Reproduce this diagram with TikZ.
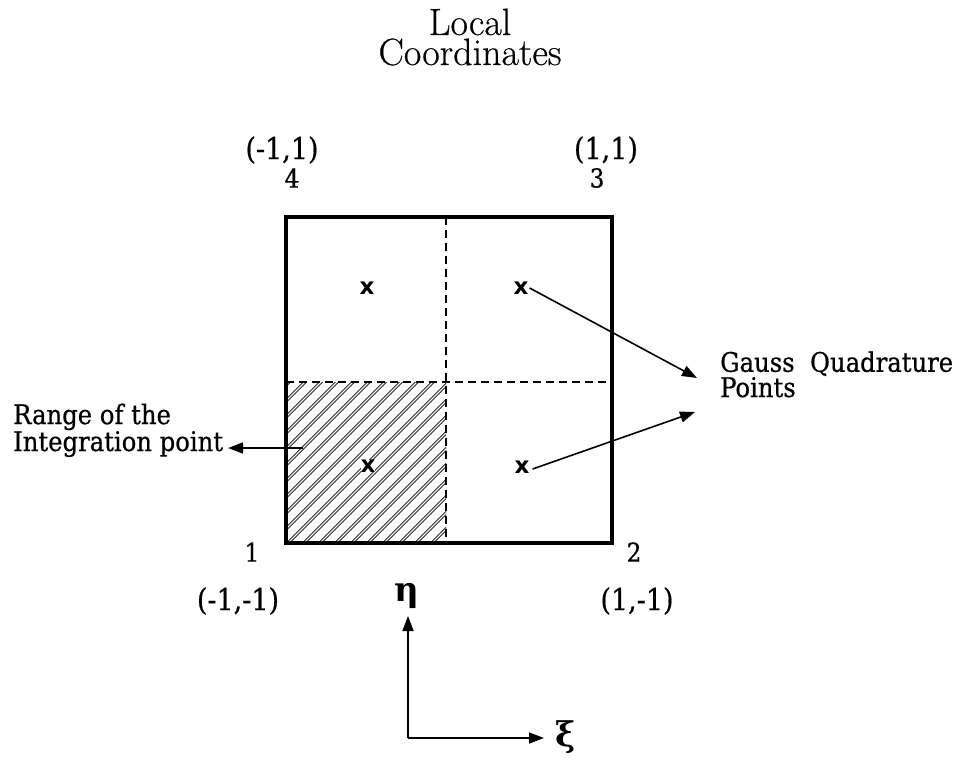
\documentclass[tikz,border=0pt]{standalone}
\usepackage{fontspec}
\usetikzlibrary{arrows.meta}
\newfontfamily\lblfont[FakeBold=0.6]{DejaVu Serif Condensed}
\newfontfamily\greekfont{DejaVu Serif}
\newfontfamily\xmfont{DejaVu Sans}
\newfontfamily\titlefont[FakeBold=0.5]{Latin Modern Roman}
\begin{document}
\begin{tikzpicture}[x=1pt,y=-1pt,
  title/.style={font=\titlefont\fontsize{38}{30}\selectfont, inner sep=0pt, align=center, anchor=base},
  corner/.style={font=\lblfont\fontsize{30}{30}\selectfont, inner sep=0pt},
  num/.style={font=\lblfont\fontsize{26}{26}\selectfont, inner sep=0pt},
  note/.style={font=\lblfont\fontsize{27}{22}\selectfont, inner sep=0pt, align=left, anchor=base west},
  gpt/.style={font=\xmfont\bfseries\fontsize{23}{23}\selectfont, inner sep=1pt},
  greek/.style={font=\greekfont\bfseries\fontsize{34}{34}\selectfont, inner sep=0pt},
  frame/.style={line width=3.2pt},
  divider/.style={line width=1.4pt, dash pattern=on 8pt off 5pt},
  hatch/.style={double, double distance=1.1pt, line width=0.9pt},
  pointer/.style={line width=1.6pt, -{Triangle[length=15pt,width=11pt]}}
]
\useasboundingbox (0,0) rectangle (960,757);

% title
\node[title] (title) at (470,65) {Local\\Coordinates};

% hatched quadrant
\begin{scope}
  \clip (286,382) rectangle (446,543);
  \foreach \i in {-176,-160,...,176} {
    \draw[hatch] (286+\i,545) -- ++(170,-170);
  }
\end{scope}

% frame and dividers
\draw[frame] (286,217) rectangle (612,543);
\draw[divider] (446,217) -- (446,543);
\draw[divider] (286,382) -- (612,382);

% corner labels
\node[corner] (c4) at (282,150) {(-1,1)};
\node[corner] (c3) at (606,150) {(1,1)};
\node[corner] (c1) at (238,601) {(-1,-1)};
\node[corner] (c2) at (637,601) {(1,-1)};
\node[num] (n4) at (292,178) {4};
\node[num] (n3) at (597,178) {3};
\node[num] (n1) at (252,552) {1};
\node[num] (n2) at (634,552) {2};

% gauss points
\node[gpt] (p4) at (367,288) {x};
\node[gpt] (p3) at (521,288) {x};
\node[gpt,fill=white,inner sep=0pt] (p1) at (368,466) {x};
\node[gpt] (p2) at (522,467) {x};

% notes
\node[note] (gauss) at (720,397) {Gauss \ Quadrature\\Points};
\node[note] (range) at (13,451) {Range of the\\Integration point};

\coordinate (g1) at (697,378);
\coordinate (g2) at (695,412);
\draw[pointer] (p3.east) -- (g1);
\draw[pointer] (p2.east) ++(2,2) -- (g2);

\coordinate (hs) at (303,448);
\coordinate (ht) at (228,448);
\draw[pointer] (hs) -- (ht);

% axes
\coordinate (o) at (408,738);
\node[greek] (eta) at (407,596) {η};
\node[greek] (xi) at (566,737) {ξ};
\draw[pointer] (o) -- (408,616) coordinate (etatip);
\draw[pointer] (o) -- (544,738) coordinate (xitip);
\end{tikzpicture}
\end{document}
